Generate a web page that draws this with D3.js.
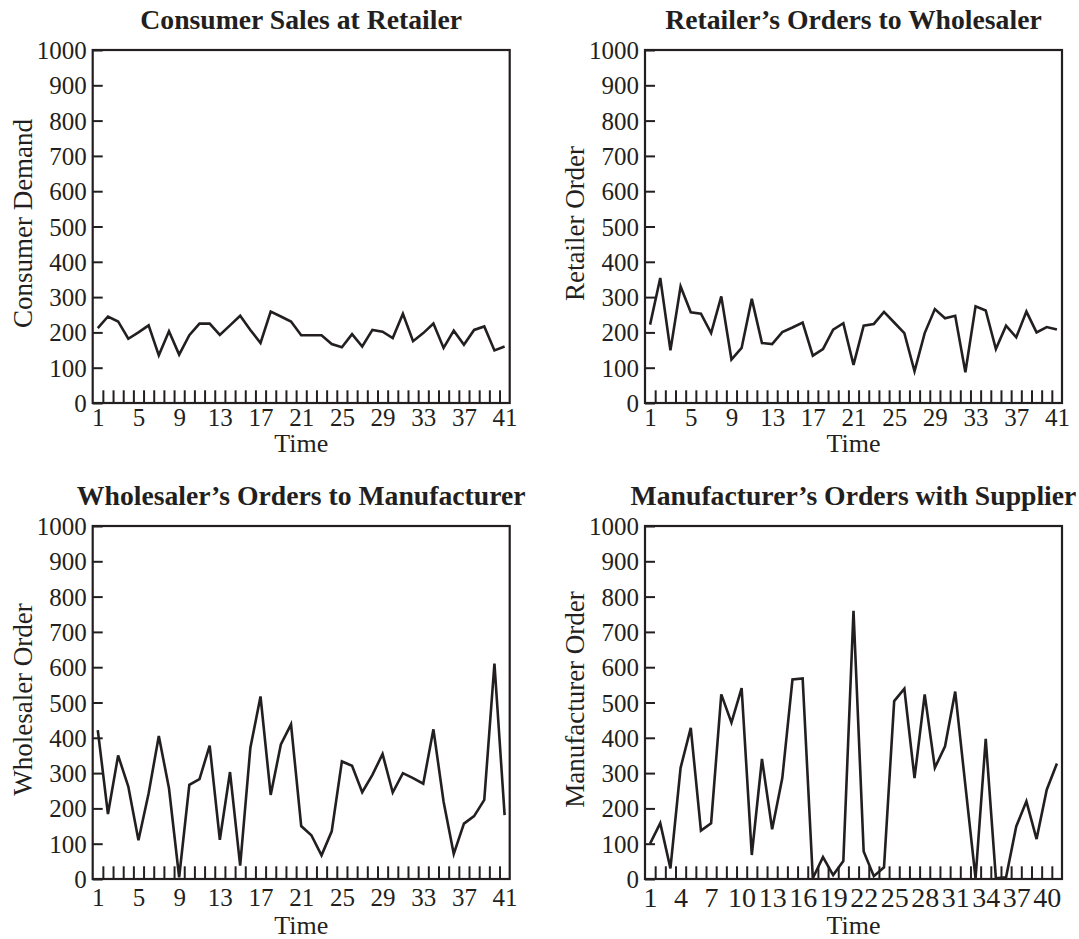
<!DOCTYPE html>
<html>
<head>
<meta charset="utf-8">
<script src="https://cdn.jsdelivr.net/npm/d3@7"></script>
<style>
  html, body { margin: 0; padding: 0; background: #ffffff; }
  svg { display: block; }
</style>
</head>
<body>
<svg id="chart" width="1079" height="939"></svg>
<script>
// ---- data ----
const periods = [1,2,3,4,5,6,7,8,9,10,11,12,13,14,15,16,17,18,19,20,21,22,23,24,25,26,27,28,29,30,31,32,33,34,35,36,37,38,39,40,41];

const consumerDemand = [212,245,231,182,200,220,135,203,137,192,225,225,193,220,247,207,170,259,245,231,
                        192,192,192,167,158,195,160,207,202,184,253,175,198,225,156,205,165,207,217,149,160];
const retailerOrder = [222,354,149,330,257,253,198,302,123,156,295,170,167,201,214,228,134,153,208,226,
                       108,219,224,258,228,198,90,198,266,240,247,87,274,262,153,219,186,259,200,215,208];
const wholesalerOrder = [422,184,350,262,110,243,405,257,5,267,283,378,111,303,38,371,517,238,381,438,
                         150,124,67,135,333,321,246,295,354,245,300,286,270,424,219,71,157,178,224,610,181];
const manufacturerOrder = [100,158,30,315,428,137,158,523,443,541,68,340,141,286,565,568,2,62,11,51,
                           760,78,8,33,504,539,286,523,315,376,531,265,2,397,2,5,149,220,113,253,327];

const labelsEvery4 = [1,5,9,13,17,21,25,29,33,37,41];
const labelsEvery3 = [1,4,7,10,13,16,19,22,25,28,31,34,37,40];
const yTicks = [0,100,200,300,400,500,600,700,800,900,1000];

const titles = ["Consumer Sales at Retailer", "Retailer\u2019s Orders to Wholesaler",
                "Wholesaler\u2019s Orders to Manufacturer", "Manufacturer\u2019s Orders with Supplier"];
const yTitles = ["Consumer Demand", "Retailer Order", "Wholesaler Order", "Manufacturer Order"];
const xTitle = "Time";

// ---- layout ----
const ink = "#231f20";
const font = "'Liberation Serif', 'Times New Roman', Times, serif";
const panelW = 417, panelH = 353;
const panels = [
  {x: 92.7, y: 50,  values: consumerDemand,   labels: labelsEvery4, title: titles[0], ytitle: yTitles[0], lblOff: 23, timeOff: 49, lblSize: 25},
  {x: 645,  y: 50,  values: retailerOrder,    labels: labelsEvery4, title: titles[1], ytitle: yTitles[1], lblOff: 23, timeOff: 49, lblSize: 25},
  {x: 92.7, y: 526, values: wholesalerOrder,  labels: labelsEvery4, title: titles[2], ytitle: yTitles[2], lblOff: 27, timeOff: 55, lblSize: 25},
  {x: 645,  y: 526, values: manufacturerOrder,labels: labelsEvery3, title: titles[3], ytitle: yTitles[3], lblOff: 28, timeOff: 55, lblSize: 28}
];

const svg = d3.select("#chart");

panels.forEach(p => {
  const g = svg.append("g").attr("transform", `translate(${p.x},${p.y})`);
  const x = d3.scaleLinear().domain([0.5, periods.length + 0.5]).range([0, panelW]);
  const y = d3.scaleLinear().domain([0, 1000]).range([panelH, 0]);

  // boundary ticks (between categories), pointing inward
  const boundaries = periods.slice(0, -1).map(d => d + 0.5);
  const xTickAxis = d3.axisBottom(x).tickValues(boundaries).tickSizeInner(-12.7).tickSizeOuter(0).tickFormat("");
  const gxt = g.append("g").attr("transform", `translate(0,${panelH})`).call(xTickAxis);
  gxt.select(".domain").remove();
  gxt.selectAll("line").attr("stroke", ink).attr("stroke-width", 2);

  // category labels
  const xLabelAxis = d3.axisBottom(x).tickValues(p.labels).tickSize(0).tickPadding(0).tickFormat(d3.format("d"));
  const gxl = g.append("g").attr("transform", `translate(0,${panelH})`).call(xLabelAxis);
  gxl.select(".domain").remove();
  gxl.selectAll("text")
    .attr("y", p.lblOff).attr("dy", null)
    .attr("fill", ink)
    .style("font-family", font).style("font-size", p.lblSize + "px");

  // y axis
  const yAxis = d3.axisLeft(y).tickValues(yTicks).tickSizeInner(-10).tickSizeOuter(0).tickPadding(16).tickFormat(d3.format("d"));
  const gy = g.append("g").call(yAxis);
  gy.select(".domain").remove();
  gy.selectAll("line").attr("stroke", ink).attr("stroke-width", 2);
  gy.selectAll("text")
    .attr("x", -6).attr("dy", "0.34em")
    .attr("fill", ink)
    .style("font-family", font).style("font-size", "25px");

  // line
  const line = d3.line().x((d, i) => x(periods[i])).y(d => y(d));
  g.append("path")
    .datum(p.values)
    .attr("d", line)
    .attr("fill", "none")
    .attr("stroke", ink)
    .attr("stroke-width", 2.6)
    .attr("stroke-linejoin", "miter")
    .attr("stroke-miterlimit", 4);

  // frame
  g.append("rect")
    .attr("x", 0).attr("y", 0).attr("width", panelW).attr("height", panelH)
    .attr("fill", "none").attr("stroke", ink).attr("stroke-width", 2.2);

  // title
  g.append("text")
    .attr("x", panelW / 2).attr("y", -21)
    .attr("text-anchor", "middle")
    .attr("fill", ink)
    .style("font-family", font).style("font-size", "27.7px").style("font-weight", "bold")
    .text(p.title);

  // x title
  g.append("text")
    .attr("x", panelW / 2).attr("y", panelH + p.timeOff)
    .attr("text-anchor", "middle")
    .attr("fill", ink)
    .style("font-family", font).style("font-size", "26px")
    .text(xTitle);

  // y title
  g.append("text")
    .attr("transform", `translate(-61,${panelH / 2 - 3}) rotate(-90)`)
    .attr("text-anchor", "middle")
    .attr("fill", ink)
    .style("font-family", font).style("font-size", "27px")
    .text(p.ytitle);
});
</script>
</body>
</html>
